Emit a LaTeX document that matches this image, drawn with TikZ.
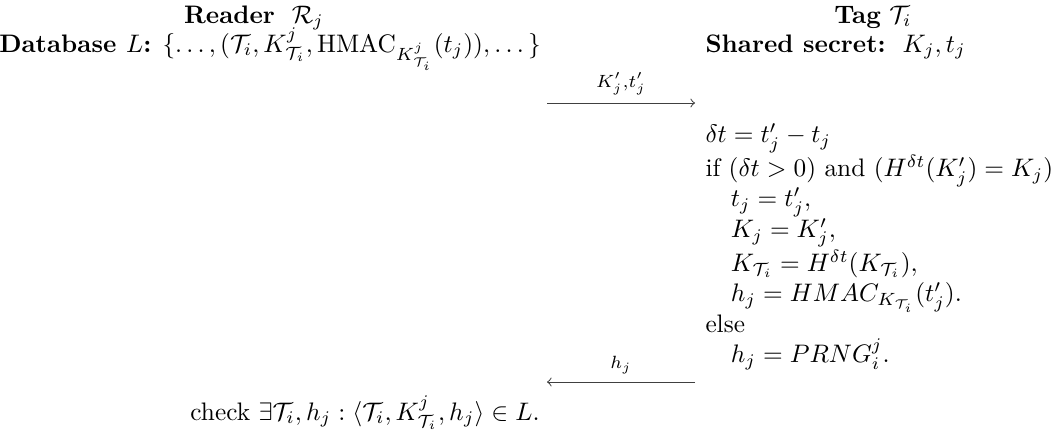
\documentclass[tikz,border=0pt]{standalone}
\usepackage{amsmath,amssymb}
\usepackage{tikz}
\usetikzlibrary{positioning, calc}
\tikzset{
    head/.style={inner sep=0pt, anchor=base},
    msg/.style={->, draw=black!75, line width=0.4pt},
    msglabel/.style={above=3pt, inner sep=0pt},
    steps/.style={align=left, inner sep=0pt, anchor=north west}
}

\begin{document}
\begin{tikzpicture}[x=0.01389cm, y=-0.01389cm]
\useasboundingbox (0,0) rectangle (1059,432);

% Reader side
\node[head] (reader) at (254,23) {\textbf{Reader}~~$\mathcal{R}_j$};
\node[head] (db) at (270,52) {\textbf{Database $L$:} $\{\dots,(\mathcal{T}_i,K^j_{\mathcal{T}_i},\mathrm{HMAC}_{K^j_{\mathcal{T}_i}}(t_j)),\dots\}$};

% Tag side
\node[head] (tag) at (873,23) {\textbf{Tag} $\mathcal{T}_i$};
\node[head, anchor=base west] (secret) at (705,52) {\textbf{Shared secret:}~~$K_j, t_j$};

% Tag computation
\node[steps] (calc) at (705,123) {%
$\delta t = t'_j - t_j$\\
if $(\delta t>0)$ and $(H^{\delta t}(K'_j)=K_j)$\\
\quad$t_j = t'_j,$\\
\quad$K_j = K'_j,$\\
\quad$K_{\mathcal{T}_i} = H^{\delta t}(K_{\mathcal{T}_i}),$\\
\quad$h_j = HMAC_{K_{\mathcal{T}_i}}(t'_j).$\\
else\\
\quad$h_j = PRNG^j_i.$};

% Reader check
\node[head] (check) at (365,420) {check $\exists\mathcal{T}_i,h_j:\langle\mathcal{T}_i,K^j_{\mathcal{T}_i},h_j\rangle\in L.$};

% Messages
\coordinate (m1a) at (547,103);
\coordinate (m1b) at (695,103);
\coordinate (m2a) at (695,382);
\coordinate (m2b) at (547,382);
\draw[msg] (m1a) -- node[msglabel] (m1lab) {$\scriptstyle K'_j,t'_j$} (m1b);
\draw[msg] (m2a) -- node[msglabel] (m2lab) {$\scriptstyle h_j$} (m2b);

\end{tikzpicture}
\end{document}
